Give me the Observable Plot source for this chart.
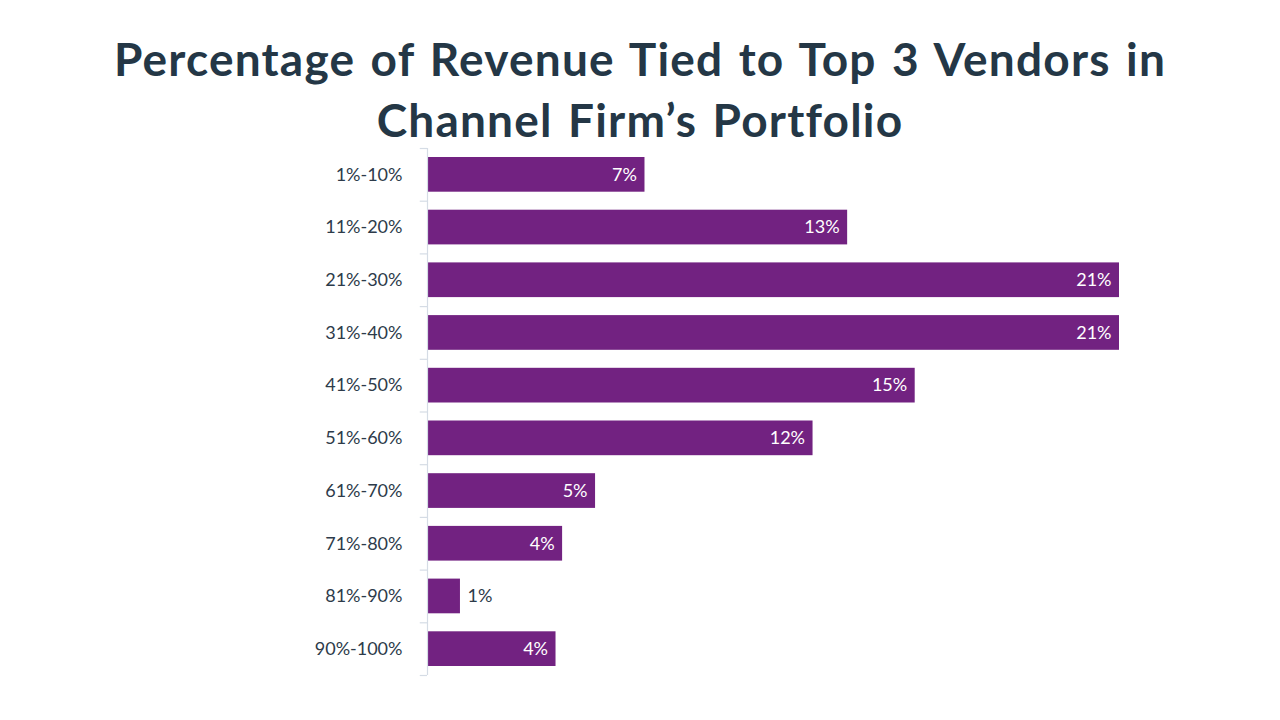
<!DOCTYPE html>
<html>
<head>
<meta charset="utf-8">
<script src="https://cdn.jsdelivr.net/npm/d3@7"></script>
<script src="https://cdn.jsdelivr.net/npm/@observablehq/plot@0.6"></script>
<style>
  html, body { margin: 0; padding: 0; background: #fff; }
  body { width: 1280px; height: 720px; position: relative; overflow: hidden; font-family: Lato, "Open Sans", sans-serif; }
  #title { position: absolute; top: 28px; left: 0; width: 1280px; text-align: center; font-weight: 700; font-size: 46px; line-height: 61px; letter-spacing: 1.2px; word-spacing: 3px; color: #243746; }
  #chart { position: absolute; top: 140px; left: 0; }
</style>
</head>
<body>
<div id="title">Percentage of Revenue Tied to Top 3 Vendors in<br>Channel Firm’s Portfolio</div>
<div id="chart"></div>
<script>
const categories = ["1%-10%", "11%-20%", "21%-30%", "31%-40%", "41%-50%", "51%-60%", "61%-70%", "71%-80%", "81%-90%", "90%-100%"];
const values = [6.6, 12.75, 21.0, 21.0, 14.8, 11.7, 5.1, 4.1, 1.0, 3.9];

const data = categories.map((c, i) => ({ cat: c, v: values[i] }));
const barColor = "#722281";
const textColor = "#2d3b4a";
const axisColor = "#d5dce5";
const step = (545 - 8 - 10) / categories.length;

const plot = Plot.plot({
  width: 1280,
  height: 545,
  marginTop: 8,
  marginBottom: 10,
  marginLeft: 427,
  marginRight: 161,
  style: { fontFamily: "Lato, 'Open Sans', sans-serif", fontSize: "18px", color: textColor, background: "transparent" },
  x: { domain: [0, 21], axis: null },
  y: { domain: categories, padding: 0, round: false, label: null },
  marks: [
    Plot.barX(data, { x: "v", y: "cat", fill: barColor, insetTop: 9, insetBottom: 9 }),
    Plot.ruleX([0], { stroke: axisColor, strokeWidth: 1.2 }),
    Plot.ruleY(categories, { y: d => d, x1: -0.22, x2: 0, stroke: axisColor, strokeWidth: 1.2, dy: -step / 2 }),
    Plot.ruleY(categories.slice(-1), { y: d => d, x1: -0.22, x2: 0, stroke: axisColor, strokeWidth: 1.2, dy: step / 2 }),
    Plot.axisY({ tickSize: 0, tickPadding: 25, fontSize: 18, fill: textColor }),
    Plot.text(data.filter(d => d.v >= 2), { x: "v", y: "cat", text: d => Math.round(d.v) + "%", fill: "white", textAnchor: "end", dx: -8, fontSize: 18 }),
    Plot.text(data.filter(d => d.v < 2), { x: "v", y: "cat", text: d => Math.round(d.v) + "%", fill: textColor, textAnchor: "start", dx: 7, fontSize: 18 })
  ]
});
document.getElementById("chart").appendChild(plot);
</script>
</body>
</html>
